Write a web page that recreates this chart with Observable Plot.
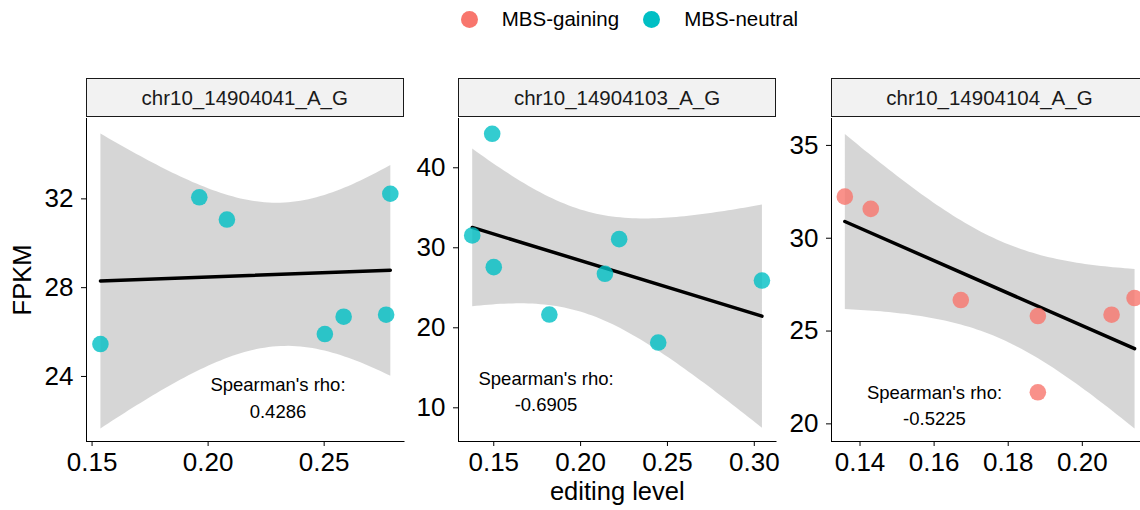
<!DOCTYPE html>
<html>
<head>
<meta charset="utf-8">
<script src="https://cdn.jsdelivr.net/npm/d3@7"></script>
<script src="https://cdn.jsdelivr.net/npm/@observablehq/plot@0.6"></script>
<style>
  html, body { margin: 0; padding: 0; background: #ffffff; overflow: hidden; width: 1140px; height: 510px; }
  #root { position: relative; width: 1140px; height: 510px; overflow: hidden; font-family: "Liberation Sans", Arial, sans-serif; }
  .strip { position: absolute; top: 78px; height: 39px; box-sizing: border-box; border: 1.3px solid #1a1a1a; background: #f2f2f2;
           font-size: 20.5px; color: #1a1a1a; display: flex; align-items: center; justify-content: center; }
  .panel { position: absolute; top: 100px; }
  .legend { position: absolute; top: 0; left: 460.8px; height: 38px; display: flex; align-items: center; font-size: 20.5px; color: #000; }
  .legend .key { width: 17px; height: 17px; border-radius: 50%; margin-right: 24px; }
  .legend .lab { margin-right: 24px; }
</style>
</head>
<body>
<div id="root"></div>
<script>
// ---- data ----
const sites = ["chr10_14904041_A_G", "chr10_14904103_A_G", "chr10_14904104_A_G"];
const groups = ["MBS-gaining", "MBS-neutral"];
const groupColors = ["#F8766D", "#00BFC4"];

const site1Group = "MBS-neutral";
const site1Editing = [0.1536, 0.1962, 0.2081, 0.2503, 0.2584, 0.2767, 0.2785];
const site1Fpkm    = [25.46, 32.07, 31.07, 25.91, 26.69, 26.78, 32.23];

const site2Group = "MBS-neutral";
const site2Editing = [0.1376, 0.1491, 0.1500, 0.1820, 0.2140, 0.2222, 0.2447, 0.3044];
const site2Fpkm    = [31.54, 44.25, 27.58, 21.66, 26.75, 31.08, 18.16, 25.91];

const site3Group = "MBS-gaining";
const site3Editing = [0.1359, 0.1429, 0.1672, 0.1880, 0.1880, 0.2079, 0.2141];
const site3Fpkm    = [32.24, 31.58, 26.67, 25.81, 21.70, 25.88, 26.78];

const rhoValues = ["0.4286", "-0.6905", "-0.5225"];
const rhoLabelX = [0.2301, 0.1801, 0.1601];
const rhoLabelY = [23.11, 12.26, 21.10];

const xTicks = [[0.15, 0.20, 0.25], [0.15, 0.20, 0.25, 0.30], [0.14, 0.16, 0.18, 0.20]];
const yTicks = [[24, 28, 32], [10, 20, 30, 40], [20, 25, 30, 35]];
const xDomains = [[0.1476, 0.2844], [0.1297, 0.3125], [0.1323, 0.2180]];
const yDomains = [[21.07, 35.62], [5.79, 46.16], [19.05, 36.45]];

// ---- layout ----
const root = document.getElementById("root");
const panelLeft = [86, 458.3, 830.7];
const panelW = 317.5;
const mLeft = [86, 60, 60];
const mRight = 10, mTop = 18, mBottom = 69;
const FONT = '"Liberation Sans", Arial, sans-serif';

// legend
const legend = document.createElement("div");
legend.className = "legend";
groups.forEach((g, i) => {
  const k = document.createElement("div");
  k.className = "key"; k.style.background = groupColors[i];
  const t = document.createElement("div");
  t.className = "lab"; t.textContent = g;
  legend.appendChild(k); legend.appendChild(t);
});
root.appendChild(legend);

const panels = [
  {group: site1Group, x: site1Editing, y: site1Fpkm},
  {group: site2Group, x: site2Editing, y: site2Fpkm},
  {group: site3Group, x: site3Editing, y: site3Fpkm}
];

panels.forEach((p, i) => {
  const data = p.x.map((x, j) => ({editing: x, fpkm: p.y[j], group: p.group}));
  const label = [{x: rhoLabelX[i], y: rhoLabelY[i], text: "Spearman's rho:\n" + rhoValues[i]}];

  const chart = Plot.plot({
    width: mLeft[i] + panelW + mRight,
    height: 410,
    marginLeft: mLeft[i],
    marginRight: mRight,
    marginTop: mTop,
    marginBottom: mBottom,
    style: {fontFamily: FONT, fontSize: "26px", color: "#000", background: "transparent", overflow: "visible", maxWidth: "none"},
    x: {domain: xDomains[i], ticks: xTicks[i], tickFormat: d3.format(".2f"), tickSize: 5, tickPadding: 6,
        line: true, label: i === 1 ? "editing level" : null, labelAnchor: "center", labelArrow: "none", labelOffset: 58},
    y: {domain: yDomains[i], ticks: yTicks[i], tickSize: 5, tickPadding: 8,
        line: true, label: i === 0 ? "FPKM" : null, labelAnchor: "center", labelArrow: "none", labelOffset: 74},
    color: {domain: groups, range: groupColors},
    marks: [
      Plot.linearRegressionY(data, {x: "editing", y: "fpkm", ci: 0.95, stroke: "#000", strokeWidth: 3.5,
                                    fill: "#999999", fillOpacity: 0.4}),
      Plot.dot(data, {x: "editing", y: "fpkm", r: 8.3, fill: "group", fillOpacity: 0.8, stroke: null}),
      Plot.text(label, {x: "x", y: "y", text: "text", fontSize: 18.5, lineHeight: 1.43, fill: "#000", fontFamily: FONT})
    ]
  });

  // axis titles slightly smaller than tick labels
  chart.querySelectorAll('[aria-label="x-axis label"], [aria-label="y-axis label"]').forEach(g => g.setAttribute("font-size", "25.5"));

  const wrap = document.createElement("div");
  wrap.className = "panel";
  wrap.style.left = (panelLeft[i] - mLeft[i]) + "px";
  wrap.style.width = (mLeft[i] + panelW + mRight) + "px";
  wrap.appendChild(chart);
  root.appendChild(wrap);

  const strip = document.createElement("div");
  strip.className = "strip";
  strip.style.left = panelLeft[i] + "px";
  strip.style.width = panelW + "px";
  strip.textContent = sites[i];
  root.appendChild(strip);
});
</script>
</body>
</html>
